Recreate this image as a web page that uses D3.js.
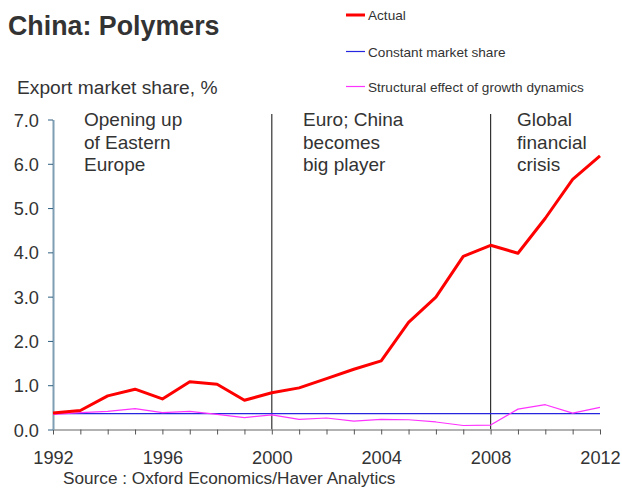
<!DOCTYPE html>
<html><head><meta charset="utf-8">
<script src="https://cdn.jsdelivr.net/npm/d3@7"></script>
<style>body{margin:0;background:#fff;} text{font-family:"Liberation Sans",Arial,sans-serif;fill:#333;}</style>
</head><body>
<svg id="c" width="622" height="491"></svg>
<script>
const years = d3.range(1992, 2013);
const actual = [0.37,0.43,0.76,0.91,0.69,1.08,1.02,0.66,0.83,0.94,1.15,1.36,1.55,2.42,2.99,3.91,4.16,3.98,4.77,5.65,6.18];
const constantShare = [0.36,0.36,0.36,0.36,0.36,0.36,0.36,0.36,0.36,0.36,0.36,0.36,0.36,0.36,0.36,0.36,0.36,0.36,0.36,0.36,0.36];
const structural = [0.34,0.38,0.41,0.47,0.38,0.41,0.34,0.27,0.33,0.23,0.26,0.19,0.23,0.22,0.17,0.09,0.10,0.46,0.56,0.37,0.50];
const yTicks = [0,1,2,3,4,5,6,7];
const xTickLabels = [1992,1996,2000,2004,2008,2012];
const eventYears = [2000,2008];
const annotations = [
  {year:1992, lines:["Opening up","of Eastern","Europe"]},
  {year:2000, lines:["Euro; China","becomes","big player"]},
  {year:2008, lines:["Global","financial","crisis"]}
];
const series = [
  {name:"Actual", values:actual, color:"#ff0000", width:3},
  {name:"Constant market share", values:constantShare, color:"#2626e0", width:1.2},
  {name:"Structural effect of growth dynamics", values:structural, color:"#ff33ff", width:1.2}
];

const svg = d3.select("#c");
const x = d3.scaleLinear().domain([1992,2012]).range([53,600]);
const y = d3.scaleLinear().domain([0,7]).range([429.5,119.5]);

// title
svg.append("text").attr("x",8).attr("y",35).attr("font-size",26.8).attr("font-weight","bold").text("China: Polymers");
svg.append("text").attr("x",17).attr("y",94).attr("font-size",19.2).text("Export market share, %");

// legend
const lg = svg.append("g");
const legY = [15,51.5,86.5];
series.forEach((s,i)=>{
  lg.append("line").attr("x1",346).attr("x2",365).attr("y1",legY[i]).attr("y2",legY[i])
    .attr("stroke",s.color).attr("stroke-width",i===0?3:1.2);
  lg.append("text").attr("x",368).attr("y",legY[i]+5).attr("font-size",13.6).text(s.name);
});

// event lines
eventYears.forEach(yr=>{
  svg.append("line").attr("x1",x(yr)).attr("x2",x(yr)).attr("y1",114).attr("y2",429.5)
    .attr("stroke","#333").attr("stroke-width",1.2);
});

// annotations
annotations.forEach((a,i)=>{
  const t = svg.append("text").attr("font-size",19);
  const xs = [84,303,517];
  a.lines.forEach((l,j)=>{
    t.append("tspan").attr("x",xs[i]).attr("y",126+j*22.5).text(l);
  });
});

// x axis
const xAxis = d3.axisBottom(x).tickValues(years).tickSize(5).tickSizeOuter(0).tickFormat(d=> xTickLabels.includes(d)? d : "");
const gx = svg.append("g").attr("transform","translate(0,429.5)").call(xAxis);
gx.select(".domain").attr("stroke","#999").attr("stroke-width",1.5);
gx.selectAll(".tick line").attr("stroke","#555");
gx.selectAll(".tick text").attr("font-size",18.2).attr("dy",0).attr("y",34).attr("fill","#333").attr("font-family","Liberation Sans, Arial, sans-serif");

// y axis
const yAxis = d3.axisLeft(y).tickValues(yTicks).tickSize(5).tickSizeOuter(0).tickFormat(d3.format(".1f"));
const gy = svg.append("g").attr("transform","translate(53,0)").call(yAxis);
gy.select(".domain").attr("stroke","#7f9db3").attr("stroke-width",2);
gy.selectAll(".tick line").attr("stroke","#2e5f80");
gy.selectAll(".tick text").attr("font-size",18.2).attr("x",-14).attr("dy","0.36em").attr("fill","#333").attr("font-family","Liberation Sans, Arial, sans-serif");

// lines
const line = d3.line().x((d,i)=>x(years[i])).y(d=>y(d));
[series[1],series[2],series[0]].forEach(s=>{
  svg.append("path").datum(s.values).attr("d",line).attr("fill","none")
    .attr("stroke",s.color).attr("stroke-width",s.width).attr("stroke-linejoin","round");
});

// source
svg.append("text").attr("x",63).attr("y",484).attr("font-size",17.2).text("Source : Oxford Economics/Haver Analytics");
</script>
</body></html>
